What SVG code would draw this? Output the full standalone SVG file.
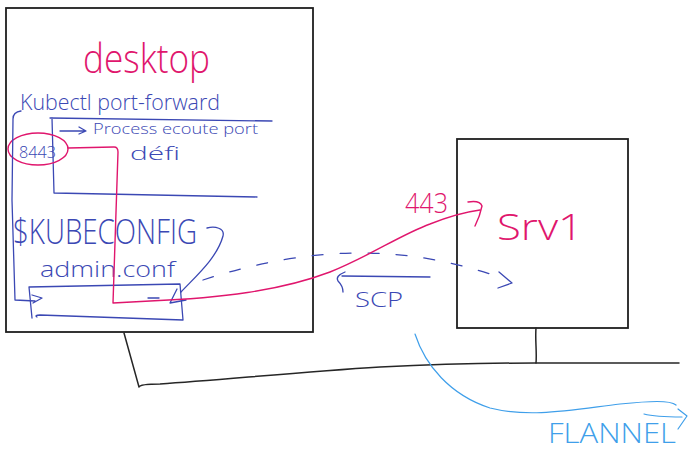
<svg xmlns="http://www.w3.org/2000/svg" width="688" height="453" viewBox="0 0 688 453">
  <style>
    .box { fill: #ffffff; stroke: #1e1e1e; stroke-width: 1.8; }
    .net { fill: none; stroke: #262626; stroke-width: 1.5; stroke-linecap: round; stroke-linejoin: round; }
    .blue { fill: none; stroke: #3b48b4; stroke-width: 1.3; stroke-linecap: round; stroke-linejoin: round; }
    .pink { fill: none; stroke: #e0166d; stroke-width: 1.4; stroke-linecap: round; stroke-linejoin: round; }
    .sky { fill: none; stroke: #3f9fea; stroke-width: 1.2; stroke-linecap: round; stroke-linejoin: round; }
    .dash { stroke-dasharray: 11 17; }
    text { font-family: "Open Sans", "Liberation Sans", sans-serif; font-weight: 300; }
    .tb { fill: #3b48b4; }
    .tp { fill: #e0166d; }
    .ts { fill: #3f9fea; }
  </style>

  <!-- machines -->
  <g id="desktop">
    <rect class="box" x="6" y="8" width="307" height="324"/>
    <text class="tp" x="83" y="73" font-size="40" textLength="127" lengthAdjust="spacingAndGlyphs">desktop</text>
  </g>

  <g id="srv1">
    <rect class="box" x="457" y="139" width="171" height="189"/>
    <text class="tp" x="497" y="240" font-size="36" textLength="86" lengthAdjust="spacingAndGlyphs">Srv1</text>
  </g>

  <!-- port-forward process -->
  <g id="kubectl">
    <text class="tb" x="20" y="110" font-size="22" textLength="200" lengthAdjust="spacingAndGlyphs">Kubectl port-forward</text>
    <path class="blue" d="M50,118 L272,121 M52,118 L54,193 L257,197"/>
    <path class="blue" d="M60,131 L85,131 M79,127 L86,131 L79,134"/>
    <text class="tb" x="93" y="134" font-size="14" textLength="165" lengthAdjust="spacingAndGlyphs">Process ecoute port</text>
    <text class="tb" x="130" y="160" font-size="18" textLength="50" lengthAdjust="spacingAndGlyphs">défi</text>
  </g>

  <g id="port8443">
    <ellipse class="pink" cx="38" cy="149" rx="30" ry="16"/>
    <text class="tb" x="19" y="158" font-size="16" textLength="37" lengthAdjust="spacingAndGlyphs">8443</text>
  </g>

  <!-- kubeconfig file -->
  <g id="kubeconfig">
    <text class="tb" x="13" y="244" font-size="34" textLength="184" lengthAdjust="spacingAndGlyphs">$KUBECONFIG</text>
    <text class="tb" x="40" y="277" font-size="22" textLength="135" lengthAdjust="spacingAndGlyphs">admin.conf</text>
  </g>

  <g id="adminconf">
    <path class="blue" d="M29,287 L180,284 L183,320 M29,287 L32,318 M37,317 Q34,315 40,315 L183,320"/>
  </g>

  <!-- links between nodes -->
  <g id="connectors">
    <!-- network cable -->
    <path class="net" d="M124,333 L139,387 Q140,384 160,384 C220,380 300,372 380,367 C440,364 500,363 535,363 C600,363 650,363 679,363"/>
    <path class="net" d="M536,328 C535,340 537,352 536,363"/>

    <!-- flannel overlay -->
    <path class="sky" d="M415,334 C425,365 450,395 490,408 C530,418 570,410 620,404 C650,401 670,400 676,405"/>
    <path class="sky" d="M644,414 C655,417 668,417 682,417 M678,409 L687,416 L678,429"/>

    <!-- kubectl bracket into the config file -->
    <path class="blue" d="M21,111 Q13,112 13,119 L12,200 L15,300 L35,301 M32,295 L42,298 L33,303"/>

    <!-- $KUBECONFIG points at admin.conf -->
    <path class="blue" d="M207,228 C215,226 225,228 223,236 C217,258 196,276 181,292 M177,289 L170,303 L186,300"/>

    <!-- scp of admin.conf to srv1 -->
    <path class="blue dash" d="M148,298 L160,298 M203,280 C240,268 280,258 330,254 C390,250 440,258 490,274"/>
    <path class="blue" d="M499,272 L512,283 L498,288"/>
    <path class="blue" d="M342,276 L430,277 M345,272 Q335,276 338,281 Q343,286 343,292"/>
    <text class="tb" x="355" y="307" font-size="20" textLength="48" lengthAdjust="spacingAndGlyphs">SCP</text>

    <!-- tunnel 8443 -> 443 -->
    <path class="pink" d="M68,148 L114,147 Q118,147 118,152 L113,303 L150,301 C220,298 280,291 330,272 C370,256 400,235 430,224 C450,216 465,212 480,210"/>
    <path class="pink" d="M468,202 Q480,200 482,206 Q480,216 475,226"/>
    <text class="tp" x="405" y="213" font-size="27" textLength="43" lengthAdjust="spacingAndGlyphs">443</text>

    <!-- flannel label -->
    <text class="ts" x="548" y="443" font-size="28" textLength="128" lengthAdjust="spacingAndGlyphs">FLANNEL</text>
  </g>
</svg>
